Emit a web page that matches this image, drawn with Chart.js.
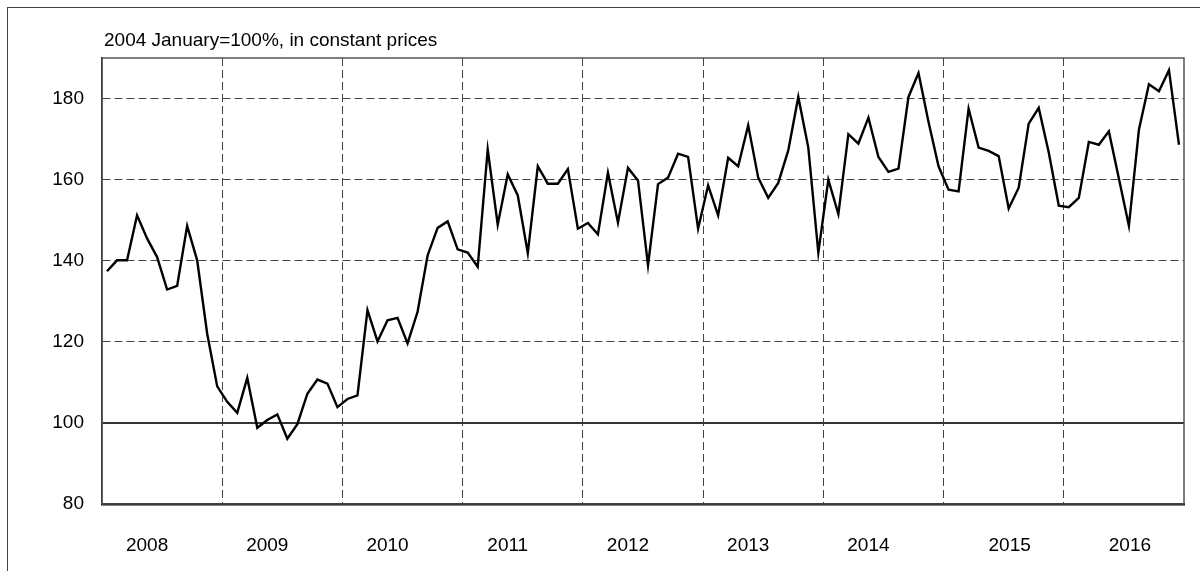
<!DOCTYPE html>
<html>
<head>
<meta charset="utf-8">
<script src="https://cdn.jsdelivr.net/npm/chart.js@4/dist/chart.umd.min.js"></script>
<style>
  html, body { margin: 0; padding: 0; background: #fff; overflow: hidden; }
  #wrap { position: relative; width: 1200px; height: 571px; }
  #frame { position: absolute; left: 7px; top: 7px; width: 1220px; height: 600px; border: 1px solid #444; pointer-events: none; }
</style>
</head>
<body>
<div id="wrap">
  <canvas id="chart" width="1200" height="571"></canvas>
  <div id="frame"></div>
</div>
<script>
// Chart text
var chartTitle = "2004 January=100%, in constant prices";

// one label per year, 12 monthly values each
var years = ["2008", "2009", "2010", "2011", "2012", "2013", "2014", "2015", "2016"];

// monthly index values, Jan 2008 .. Dec 2016
var values2008 = [137.4, 140.1, 140.1, 151.2, 145.5, 140.9, 132.9, 133.8, 148.6, 140.1, 122.0, 109.0];
var values2009 = [105.2, 102.5, 111.1, 98.8, 100.7, 102.1, 96.1, 99.7, 107.2, 110.7, 109.7, 103.9];
var values2010 = [105.9, 106.8, 127.8, 120.1, 125.3, 125.9, 119.6, 127.4, 141.3, 148.1, 149.7, 142.8];
var values2011 = [142.0, 138.5, 167.4, 148.9, 161.3, 156.1, 141.9, 163.3, 159.0, 159.0, 162.6, 147.9];
var values2012 = [149.3, 146.5, 161.7, 149.4, 162.9, 159.8, 138.9, 158.9, 160.5, 166.4, 165.6, 147.9];
var values2013 = [158.6, 151.2, 165.4, 163.3, 173.4, 160.5, 155.5, 159.2, 167.2, 180.4, 167.9, 142.0];
var values2014 = [160.0, 151.5, 171.2, 168.9, 175.3, 165.6, 161.9, 162.7, 180.4, 186.3, 174.2, 163.3];
var values2015 = [157.5, 157.1, 177.5, 167.9, 167.1, 165.8, 152.9, 158.0, 173.8, 177.7, 166.7, 153.6];
var values2016 = [153.2, 155.5, 169.3, 168.6, 171.9, 160.3, 148.6, 172.3, 183.5, 181.8, 187.0, 168.6];

// y axis tick labels
var yTicks = [80, 100, 120, 140, 160, 180];
var baseValue = 100;

var allValues = [].concat(values2008, values2009, values2010, values2011, values2012,
                          values2013, values2014, values2015, values2016);

// x is counted in months from the start of 2008, each point sits mid-month
var points = allValues.map(function(v, i) { return { x: i + 0.5, y: v }; });
var nMonths = years.length * 12;

// the source puts its year labels a little left of the middle of the year,
// the last two a bit further right
function labelMonth(k) {
	return k * 12 + (k >= 7 ? 6.6 : 4.5);
}

var gridDash = [8, 4];
var gridColor = "#444";
var fontSpec = { family: "'Liberation Sans', Arial, sans-serif", size: 19 };

// draws the thin frame round the plot area and the title above it
var framePlugin = {
	id: "frame",
	beforeDatasetsDraw: function(chart) {
		var a = chart.chartArea, ctx = chart.ctx;
		ctx.save();
		ctx.strokeStyle = "#555";
		ctx.lineWidth = 1.5;
		ctx.strokeRect(a.left, a.top, a.right - a.left, a.bottom - a.top);
		ctx.restore();
	},
	afterDraw: function(chart) {
		var a = chart.chartArea, ctx = chart.ctx;
		ctx.save();
		ctx.fillStyle = "#000";
		ctx.font = fontSpec.size + "px " + fontSpec.family;
		ctx.textBaseline = "middle";
		ctx.textAlign = "left";
		ctx.fillText(chartTitle, a.left + 2, 41);
		ctx.restore();
	}
};

Chart.defaults.font.family = fontSpec.family;
Chart.defaults.font.size = fontSpec.size;
Chart.defaults.color = "#000";

new Chart(document.getElementById("chart"), {
	type: "line",
	data: {
		datasets: [{
			data: points,
			borderColor: "#000",
			borderWidth: 2.4,
			pointRadius: 0,
			tension: 0,
			fill: false
		}]
	},
	options: {
		responsive: false,
		animation: false,
		events: [],
		layout: { padding: { left: 0, right: 16, top: 58, bottom: 0 } },
		plugins: { legend: { display: false }, title: { display: false }, tooltip: { enabled: false } },
		scales: {
			x: {
				type: "linear",
				min: 0,
				max: nMonths,
				afterFit: function(scale) {
					scale.height = 67;
					// tick padding should only push labels down, not squeeze the sides
					scale.paddingLeft = 0;
					scale.paddingRight = 0;
				},
				afterBuildTicks: function(scale) {
					var t = [];
					for (var k = 0; k <= years.length; k++) t.push({ value: k * 12, year: null });
					for (var j = 0; j < years.length; j++) t.push({ value: labelMonth(j), year: years[j] });
					t.sort(function(a, b) { return a.value - b.value; });
					scale.ticks = t;
				},
				ticks: {
					autoSkip: false,
					maxRotation: 0,
					padding: 30,
					callback: function(value, index, ticks) { return ticks[index].year || ""; }
				},
				grid: {
					drawTicks: false,
					lineWidth: 1,
					color: function(ctx) {
						if (!ctx.tick || ctx.tick.year) return "rgba(0,0,0,0)";
						if (ctx.tick.value === 0 || ctx.tick.value === nMonths) return "rgba(0,0,0,0)";
						return gridColor;
					}
				},
				border: { display: true, color: "#000", width: 2.5, dash: gridDash }
			},
			y: {
				min: 80,
				max: 190,
				afterFit: function(scale) { scale.width = 102; },
				afterBuildTicks: function(scale) {
					scale.ticks = yTicks.map(function(v) { return { value: v }; });
				},
				ticks: { padding: 18 },
				grid: {
					drawTicks: false,
					color: function(ctx) {
						if (!ctx.tick || ctx.tick.value === 80) return "rgba(0,0,0,0)";
						return ctx.tick.value === baseValue ? "#333" : gridColor;
					},
					lineWidth: function(ctx) {
						return ctx.tick && ctx.tick.value === baseValue ? 2 : 1;
					}
				},
				border: {
					display: true,
					color: "#000",
					width: 1.5,
					dash: function(ctx) {
						if (ctx.tick && ctx.tick.value === baseValue) return [];
						return gridDash;
					}
				}
			}
		}
	},
	plugins: [framePlugin]
});
</script>
</body>
</html>
